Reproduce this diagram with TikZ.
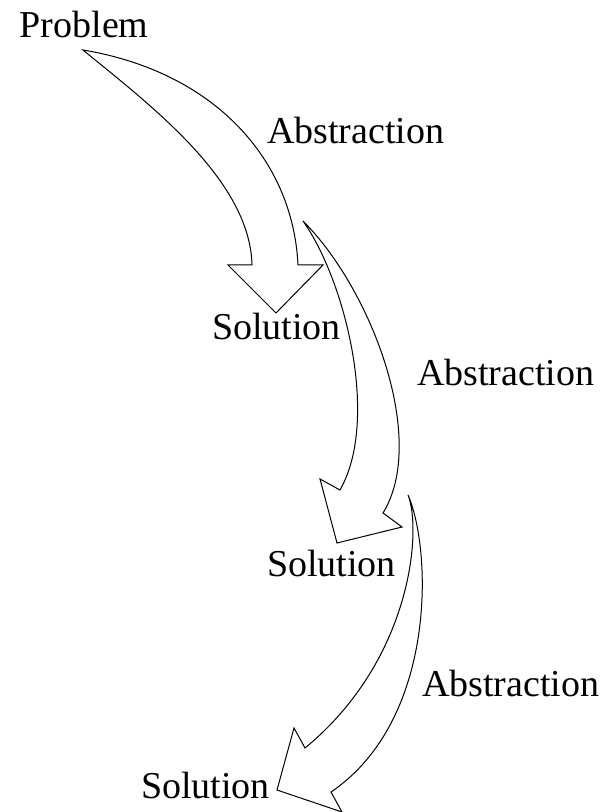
\documentclass[tikz,border=0pt]{standalone}
\usepackage{fontspec}
\setmainfont{Liberation Serif}
\begin{document}
\begin{tikzpicture}[x=0.5pt,y=-0.5pt,
  label/.style={anchor=base west,inner sep=0pt,font=\fontsize{19}{22}\selectfont},
  bigarrow/.style={draw=black,line width=0.5pt,line join=miter,fill=white}]
\useasboundingbox (0,0) rectangle (604,812);

% labels
\node[label] (problem) at (19.3,37.3) {Problem};
\node[label] (abs1) at (266.7,143.3) {Abstraction};
\node[label] (sol1) at (211.7,339) {Solution};
\node[label] (abs2) at (416.7,385) {Abstraction};
\node[label] (sol2) at (266.7,576.7) {Solution};
\node[label] (abs3) at (421.7,696) {Abstraction};
\node[label] (sol3) at (140.7,798.7) {Solution};

% first block arrow: Problem -> Solution
\coordinate (t1) at (83,50);
\coordinate (o1) at (298,265);
\coordinate (r1) at (323,265);
\coordinate (h1) at (276,313);
\coordinate (l1) at (228,265);
\coordinate (i1) at (252,265);
\draw[bigarrow] (t1) .. controls (215,72) and (293,160) .. (o1)
  -- (r1) -- (h1) -- (l1) -- (i1)
  .. controls (250,180) and (150,105) .. (t1) -- cycle;

% second block arrow
\coordinate (t2) at (303,221);
\coordinate (o2) at (383,513);
\coordinate (r2) at (402,527);
\coordinate (h2) at (337,543);
\coordinate (l2) at (320,479);
\coordinate (i2) at (340,490);
\draw[bigarrow] (t2) .. controls (372,290) and (428,440) .. (o2)
  -- (r2) -- (h2) -- (l2) -- (i2)
  .. controls (380,420) and (345,280) .. (t2) -- cycle;

% third block arrow
\coordinate (t3) at (408,495);
\coordinate (o3) at (331,792);
\coordinate (r3) at (342,812);
\coordinate (h3) at (277,790);
\coordinate (l3) at (294,728);
\coordinate (i3) at (305,748);
\draw[bigarrow] (t3) .. controls (432,550) and (437,720) .. (o3)
  -- (r3) -- (h3) -- (l3) -- (i3)
  .. controls (412,660) and (422,530) .. (t3) -- cycle;
\end{tikzpicture}
\end{document}
